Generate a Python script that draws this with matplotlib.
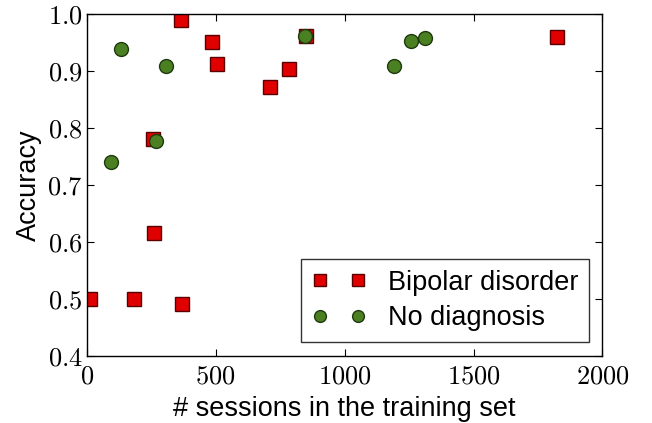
import matplotlib
matplotlib.use('Agg')
import matplotlib.pyplot as plt
from matplotlib.ticker import FuncFormatter

# sessions in training set vs accuracy
bipolar_x = [14, 183, 257, 260, 365, 370, 487, 504, 710, 783, 849, 1824]
bipolar_y = [0.50, 0.50, 0.78, 0.616, 0.99, 0.49, 0.951, 0.913, 0.871, 0.903, 0.962, 0.959]
nodiag_x = [93, 132, 270, 307, 845, 1191, 1258, 1310]
nodiag_y = [0.74, 0.939, 0.777, 0.909, 0.962, 0.909, 0.952, 0.957]

plt.rcParams['mathtext.fontset'] = 'cm'
plt.rcParams['font.family'] = 'Liberation Sans'

fig = plt.figure(figsize=(6.52, 4.23), dpi=100)
ax = fig.add_axes([0.133, 0.159, 0.791, 0.808])

ax.plot(bipolar_x, bipolar_y, 's', color='#e00000', markeredgecolor='#5a0000',
        markersize=10, label='Bipolar disorder')
ax.plot(nodiag_x, nodiag_y, 'o', color='#4a8022', markeredgecolor='#1f3a0e',
        markersize=10, label='No diagnosis')

ax.set_xlim(0, 2000)
ax.set_ylim(0.4, 1.0)
ax.set_xticks([0, 500, 1000, 1500, 2000])
ax.set_yticks([0.4, 0.5, 0.6, 0.7, 0.8, 0.9, 1.0])
ax.xaxis.set_major_formatter(FuncFormatter(lambda v, p: r'$%d$' % v))
ax.yaxis.set_major_formatter(FuncFormatter(lambda v, p: r'$%.1f$' % v))
ax.tick_params(direction='in', top=True, right=True, labelsize=19, length=5)
ax.tick_params(axis='x', pad=6)
ax.tick_params(axis='y', pad=3)
for s in ax.spines.values():
    s.set_linewidth(1.0)

ax.set_xlabel('# sessions in the training set', fontsize=19.5, labelpad=6)
ax.set_ylabel('Accuracy', fontsize=19.5, labelpad=4)

leg = ax.legend(loc='lower right', numpoints=2, fontsize=19.5, fancybox=False,
                borderpad=0.4, labelspacing=0.35, handletextpad=0.8,
                handlelength=2.0, markerscale=0.85)
leg.get_frame().set_edgecolor('black')
leg.get_frame().set_linewidth(1.0)

fig.savefig('out.png', dpi=100)
